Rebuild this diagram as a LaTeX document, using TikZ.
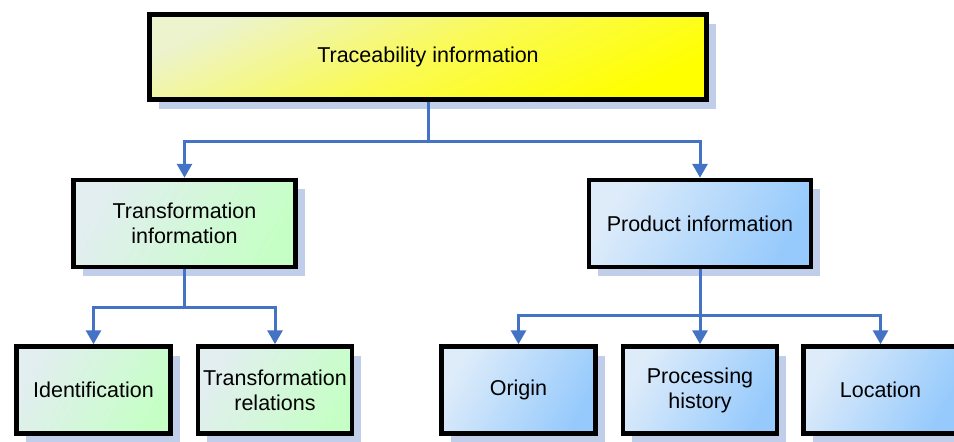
\documentclass[tikz,border=0pt]{standalone}
\usepackage{fontspec}
\setmainfont{Liberation Sans}
\usepackage{tikz}
\usetikzlibrary{arrows.meta,positioning,shadows}
\definecolor{arrowblue}  {RGB}{68,114,196}
\definecolor{shadowblue} {RGB}{192,206,234}
\definecolor{yellowlight}{RGB}{236,243,205}
\definecolor{yellowmid}  {RGB}{250,250,85}
\definecolor{yellowdark} {RGB}{255,255,0}
\definecolor{greenlight} {RGB}{226,238,240}
\definecolor{greendark}  {RGB}{198,255,198}
\definecolor{bluelight}  {RGB}{222,236,250}
\definecolor{bluedark}   {RGB}{150,202,252}

\begin{document}
\begin{tikzpicture}[
  x=1pt, y=1pt,
  font=\fontsize{21.5}{25}\selectfont,
  every node/.style={align=center},
  basebox/.style={rectangle, draw=black, line width=4.5pt,
    shading=axis, shading angle=45,
    drop shadow={shadow xshift=9pt, shadow yshift=-9pt,
                 fill=shadowblue, opacity=1}},
  tracebox/.style={basebox, top color=yellowlight, bottom color=yellowdark,
    middle color=yellowmid, shading angle=25,
    minimum width=557pt, minimum height=85pt},
  transbox/.style={basebox, top color=greenlight, bottom color=greendark,
    shading angle=60},
  prodbox/.style={basebox, top color=bluelight, bottom color=bluedark,
    shading angle=60},
  midsize/.style={minimum width=222pt, minimum height=87pt},
  lowsize/.style={minimum width=154pt, minimum height=87pt},
  arr/.style={-{Triangle[width=15pt,length=14pt]}, line width=3pt,
    color=arrowblue},
]
\useasboundingbox (0,0) rectangle (954,-442);

% Root
\node[tracebox] (trace) at (428,-57) {Traceability information};

% Second level
\node[transbox, midsize, below=76pt of trace, xshift=-243.5pt] (transinfo)
  {Transformation\\information};
\node[prodbox, midsize, below=76pt of trace, xshift=272pt] (prodinfo)
  {Product information};

% Third level, left
\node[transbox, lowsize, below=75pt of transinfo, xshift=-91pt] (ident)
  {Identification};
\node[transbox, lowsize, right=23pt of ident] (transrel)
  {Transformation\\relations};

% Third level, right
\node[prodbox, lowsize, below=75pt of prodinfo] (prochist)
  {Processing\\history};
\node[prodbox, lowsize, left=23pt of prochist] (origin) {Origin};
\node[prodbox, lowsize, right=22pt of prochist] (location) {Location};

% Connectors
\draw[arr] (trace.south) -- ++(0,-40) -| (transinfo.north);
\draw[arr] (trace.south) -- ++(0,-40) -| (prodinfo.north);
\draw[arr] (transinfo.south) -- ++(0,-38) -| (ident.north);
\draw[arr] (transinfo.south) -- ++(0,-38) -| (transrel.north);
\draw[arr] (prodinfo.south) -- ++(0,-46) -| (origin.north);
\draw[arr] (prodinfo.south) -- (prochist.north);
\draw[arr] (prodinfo.south) -- ++(0,-46) -| (location.north);
\end{tikzpicture}
\end{document}
